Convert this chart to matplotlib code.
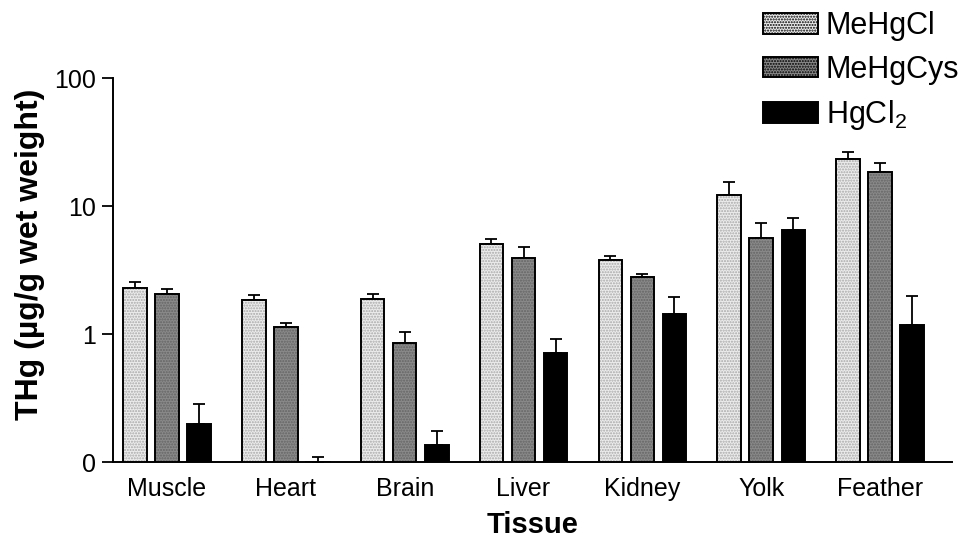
import numpy as np
import matplotlib
matplotlib.use("Agg")
import matplotlib.pyplot as plt
from matplotlib.patches import Patch

plt.rcParams['font.family'] = ['Liberation Sans', 'DejaVu Sans']
plt.rcParams['mathtext.default'] = 'regular'

# data (log axis, "0" marks the 0.1 floor)
tissues = ["Muscle", "Heart", "Brain", "Liver", "Kidney", "Yolk", "Feather"]
series = ["MeHgCl", "MeHgCys", "HgCl$_2$"]
mehgcl = [2.29, 1.83, 1.89, 5.05, 3.77, 12.2, 23.2]
mehgcl_err = [0.24, 0.19, 0.15, 0.47, 0.28, 3.3, 3.4]
mehgcys = [2.05, 1.13, 0.855, 3.95, 2.80, 5.65, 18.4]
mehgcys_err = [0.20, 0.10, 0.18, 0.80, 0.16, 1.72, 3.4]
hgcl2 = [0.198, 0.1, 0.135, 0.715, 1.43, 6.46, 1.18]
hgcl2_err = [0.086, 0.01, 0.041, 0.194, 0.51, 1.65, 0.81]

yticks = [0.1, 1, 10, 100]
ytick_labels = ["0", "1", "10", "100"]

faces = ["#ececec", "#8a8a8a", "#000000"]
hatches = ["......", "......", None]
hatch_cols = ["#a8a8a8", "#646464", "#000000"]

fig = plt.figure(figsize=(9.68, 5.44), dpi=100)
ax = fig.add_axes([0.1167, 0.1507, 0.8668, 0.7059])
ax.set_yscale('log')

x = np.arange(len(tissues))
width = 0.198
offset = 0.27
values = [mehgcl, mehgcys, hgcl2]
errs = [mehgcl_err, mehgcys_err, hgcl2_err]

for i in range(3):
    xs = x + (i - 1) * offset
    # upper-only error bars, drawn under the bars
    ax.errorbar(xs, values[i], yerr=[np.zeros(len(x)), errs[i]], fmt='none',
                ecolor='black', elinewidth=1.3, capsize=4.5, capthick=1.3, zorder=1)
    # fill + stipple
    ax.bar(xs, values[i], width=width, color=faces[i], edgecolor=hatch_cols[i],
           hatch=hatches[i], linewidth=0, zorder=2)
    # outline
    ax.bar(xs, values[i], width=width, facecolor='none', edgecolor='black',
           linewidth=1.4, zorder=3)

ax.set_ylim(0.1, 100)
ax.set_xlim(-0.455, 6.606)
ax.yaxis.set_major_locator(matplotlib.ticker.FixedLocator(yticks))
ax.yaxis.set_minor_locator(matplotlib.ticker.NullLocator())
ax.set_yticklabels(ytick_labels)
ax.set_xticks(x)
ax.set_xticklabels(tissues)
ax.tick_params(axis='y', length=8, width=1.3, labelsize=18, pad=4)
ax.tick_params(axis='x', length=0, labelsize=18, pad=11)

for s in ['top', 'right']:
    ax.spines[s].set_visible(False)
for s in ['left', 'bottom']:
    ax.spines[s].set_linewidth(1.4)

ax.set_ylabel("THg (µg/g wet weight)", fontsize=23, fontweight='bold', labelpad=7,
              y=0.542)
ax.set_xlabel("Tissue", fontsize=21, fontweight='bold', labelpad=7)

handles = []
for i in range(3):
    handles.append(Patch(facecolor=faces[i], edgecolor='black', linewidth=1.4,
                         hatch=hatches[i]))
fig.legend(handles, series, loc='upper left', bbox_to_anchor=(763 / 968, 1 - 11 / 544),
           frameon=False, fontsize=22, handlelength=1.8, handleheight=0.66,
           labelspacing=0.45, borderpad=0, borderaxespad=0, handletextpad=0.25)

fig.savefig("out.png", dpi=100)
